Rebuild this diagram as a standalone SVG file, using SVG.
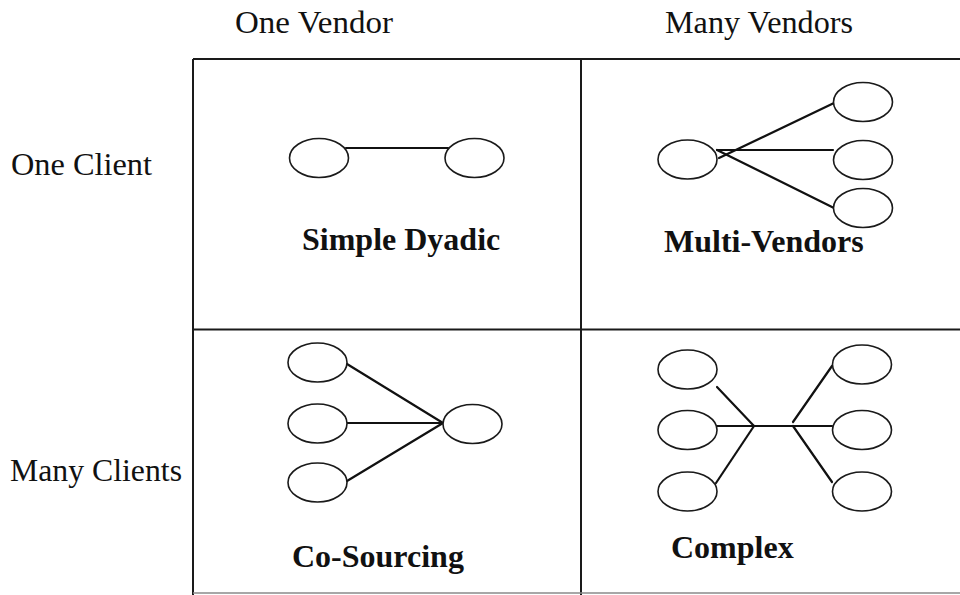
<svg xmlns="http://www.w3.org/2000/svg" width="960" height="595" viewBox="0 0 960 595">
  <style>
    .grid { stroke: #1a1a1a; stroke-width: 2; fill: none; }
    .grid-faint { stroke: #8a8a8a; stroke-width: 1.5; fill: none; }
    .node { fill: #ffffff; stroke: #1a1a1a; stroke-width: 1.6; }
    .link { stroke: #111111; stroke-width: 2.2; fill: none; stroke-linecap: round; }
    .axis { font-family: "Liberation Serif", "Times New Roman", serif; font-size: 32px; fill: #111111; }
    .title { font-family: "Liberation Serif", "Times New Roman", serif; font-size: 32px; font-weight: bold; fill: #111111; }
  </style>
  <defs>
    <ellipse id="oval" cx="0" cy="0" rx="29.5" ry="19.5"/>
  </defs>

  <rect x="0" y="0" width="960" height="595" fill="#ffffff"/>

  <!-- 2x2 matrix frame -->
  <g id="matrix">
    <line class="grid" x1="193" y1="59" x2="960" y2="59"/>
    <line class="grid" x1="193" y1="329.5" x2="960" y2="329.5"/>
    <line class="grid" x1="193" y1="59" x2="193" y2="595"/>
    <line class="grid" x1="581" y1="59" x2="581" y2="595"/>
    <line class="grid-faint" x1="193" y1="593" x2="960" y2="593"/>
  </g>

  <!-- axis headings -->
  <g id="axis-labels">
    <text class="axis" x="235" y="33" textLength="158" lengthAdjust="spacingAndGlyphs">One Vendor</text>
    <text class="axis" x="665" y="33" textLength="188" lengthAdjust="spacingAndGlyphs">Many Vendors</text>
    <text class="axis" x="11" y="175" textLength="141" lengthAdjust="spacingAndGlyphs">One Client</text>
    <text class="axis" x="10" y="481" textLength="172" lengthAdjust="spacingAndGlyphs">Many Clients</text>
  </g>

  <!-- connectors -->
  <g id="connectors">
    <!-- simple dyadic -->
    <line class="link" x1="346" y1="148" x2="448" y2="148"/>
    <!-- multi-vendors -->
    <line class="link" x1="717" y1="150" x2="833" y2="150"/>
    <line class="link" x1="719" y1="158" x2="834" y2="103"/>
    <line class="link" x1="717" y1="150" x2="834" y2="208"/>
    <!-- co-sourcing -->
    <line class="link" x1="347" y1="364" x2="443" y2="423"/>
    <line class="link" x1="347" y1="423" x2="443" y2="423"/>
    <line class="link" x1="347" y1="481" x2="443" y2="423"/>
    <!-- complex -->
    <line class="link" x1="717" y1="426" x2="832" y2="426"/>
    <line class="link" x1="717" y1="387" x2="754" y2="426"/>
    <line class="link" x1="716" y1="483" x2="754" y2="426"/>
    <line class="link" x1="793" y1="422" x2="832" y2="366"/>
    <line class="link" x1="793" y1="426" x2="832" y2="482"/>
  </g>

  <!-- Simple Dyadic: one client, one vendor -->
  <g id="dyadic-client"><use href="#oval" class="node" x="319" y="158"/></g>
  <g id="dyadic-vendor"><use href="#oval" class="node" x="474.5" y="158"/></g>
  <g id="dyadic-label"><text class="title" x="302" y="250">Simple Dyadic</text></g>

  <!-- Multi-Vendors: one client, many vendors -->
  <g id="multi-client"><use href="#oval" class="node" x="687.5" y="159.5"/></g>
  <g id="multi-vendor-1"><use href="#oval" class="node" x="863" y="102"/></g>
  <g id="multi-vendor-2"><use href="#oval" class="node" x="863" y="160"/></g>
  <g id="multi-vendor-3"><use href="#oval" class="node" x="863" y="208"/></g>
  <g id="multi-label"><text class="title" x="664" y="252">Multi-Vendors</text></g>

  <!-- Co-Sourcing: many clients, one vendor -->
  <g id="cosource-client-1"><use href="#oval" class="node" x="317.5" y="362.5"/></g>
  <g id="cosource-client-2"><use href="#oval" class="node" x="317.5" y="423.5"/></g>
  <g id="cosource-client-3"><use href="#oval" class="node" x="317.5" y="482.5"/></g>
  <g id="cosource-vendor"><use href="#oval" class="node" x="472.5" y="424"/></g>
  <g id="cosource-label"><text class="title" x="292" y="567">Co-Sourcing</text></g>

  <!-- Complex: many clients, many vendors -->
  <g id="complex-client-1"><use href="#oval" class="node" x="687.5" y="369.5"/></g>
  <g id="complex-client-2"><use href="#oval" class="node" x="687.5" y="430"/></g>
  <g id="complex-client-3"><use href="#oval" class="node" x="687.5" y="491.5"/></g>
  <g id="complex-vendor-1"><use href="#oval" class="node" x="862" y="364.5"/></g>
  <g id="complex-vendor-2"><use href="#oval" class="node" x="862" y="430"/></g>
  <g id="complex-vendor-3"><use href="#oval" class="node" x="862" y="491.5"/></g>
  <g id="complex-label"><text class="title" x="671" y="558">Complex</text></g>
</svg>
